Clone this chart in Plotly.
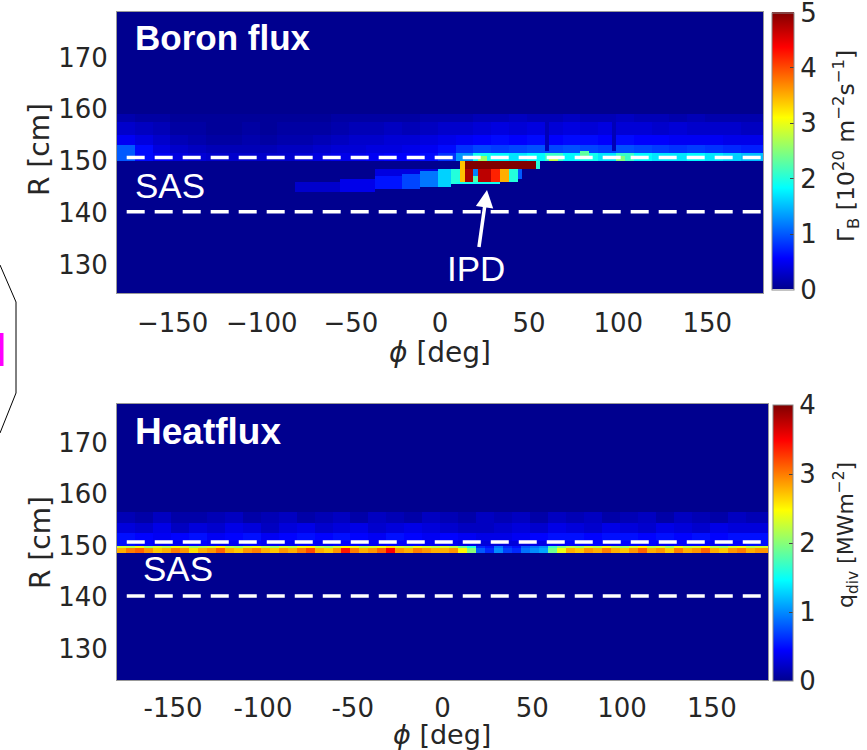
import numpy as np
import plotly.graph_objects as go

# ------------------------------------------------------------------ data
PHI_STEP = 2.5                     # toroidal bin width [deg]
R_STEP = 0.5                       # radial bin width [cm]
PHI_MIN, PHI_MAX = -180.0, 180.0
R_MIN, R_MAX = 123.5, 179.0

SEG10 = list(range(-180, 180, 10))  # 10-deg segment starts (36)
SEG5 = list(range(-180, 180, 5))    # 5-deg segment starts (72)

# --- Boron flux (10^20 m^-2 s^-1): rows above the SAS entrance, by 10-deg segment
top_rows_r = [(157.5, 159.0), (155.0, 157.5), (153.0, 155.0), (151.5, 153.0), (150.0, 151.5)]
top_row_157 = [0.15, 0.1, 0.1, 0.05, 0.05, 0.05, 0.05, 0.05, 0.05, 0.05, 0.05, 0.05, 0.1, 0.1, 0.1, 0.1, 0.1, 0.15,
               0.15, 0.15, 0.2, 0.2, 0.25, 0.2, 0.2, 0.25, 0.2, 0.2, 0.25, 0.2, 0.2, 0.15, 0.2, 0.15, 0.15, 0.15]
top_row_155 = [0.3, 0.25, 0.2, 0.1, 0.1, 0.05, 0.05, 0.1, 0.05, 0.1, 0.1, 0.1, 0.15, 0.2, 0.2, 0.25, 0.2, 0.25,
               0.3, 0.3, 0.35, 0.4, 0.35, 0.4, 0.35, 0.4, 0.35, 0.4, 0.35, 0.35, 0.3, 0.35, 0.3, 0.3, 0.3, 0.25]
top_row_153 = [0.5, 0.4, 0.3, 0.2, 0.15, 0.1, 0.1, 0.15, 0.1, 0.15, 0.15, 0.2, 0.25, 0.3, 0.3, 0.35, 0.35, 0.4,
               0.45, 0.5, 0.55, 0.6, 0.55, 0.6, 0.55, 0.6, 0.6, 0.55, 0.6, 0.55, 0.55, 0.5, 0.5, 0.5, 0.45, 0.45]
top_row_151 = [1.0, 0.6, 0.4, 0.3, 0.25, 0.2, 0.2, 0.2, 0.2, 0.25, 0.25, 0.3, 0.35, 0.35, 0.4, 0.4, 0.45, 0.5,
               0.6, 0.8, 0.9, 0.85, 0.9, 0.95, 0.9, 0.95, 0.9, 0.85, 0.95, 0.9, 0.85, 0.8, 0.85, 0.8, 0.75, 0.7]
top_row_150 = [1.0, 0.6, 0.5, 0.4, 0.35, 0.3, 0.3, 0.3, 0.3, 0.3, 0.35, 0.4, 0.45, 0.45, 0.5, 0.55, 0.55, 0.6,
               0.8, 1.3, 1.9, 1.8, 1.7, 1.8, 2.1, 1.8, 1.9, 1.7, 2.1, 1.8, 1.7, 1.7, 1.8, 1.7, 1.6, 1.5]
# local features (phi0, phi1, R0, R1, value)
top_spots = [
    (22.5, 27.5, 150.0, 151.0, 2.6), (62.5, 67.5, 150.0, 151.0, 2.8),
    (80.0, 85.0, 151.0, 152.0, 2.3), (100.0, 105.0, 150.0, 151.0, 2.5),
    (60.0, 62.5, 152.0, 157.5, 0.2), (97.5, 100.0, 152.0, 157.5, 0.2),
    # deposition tail in front of the IPD
    (-35.0, 0.0, 147.0, 148.5, 0.4),
    (-80.0, -55.0, 144.0, 146.0, 0.3), (-55.0, -35.0, 144.0, 146.5, 0.45),
    (-35.0, -20.0, 144.5, 147.0, 0.65), (-20.0, -10.0, 144.5, 147.5, 0.9),
    (-10.0, 0.0, 145.0, 148.0, 1.15), (0.0, 7.5, 145.0, 148.5, 1.6),
    # IPD blob
    (7.5, 12.5, 145.5, 148.5, 2.0), (12.5, 15.0, 145.5, 150.0, 3.4),
    (15.0, 20.0, 146.0, 148.5, 4.8), (20.0, 22.5, 147.0, 148.5, 1.2),
    (20.0, 22.5, 146.0, 147.0, 2.2), (22.5, 30.0, 146.0, 148.5, 4.7),
    (30.0, 35.0, 146.0, 148.5, 4.2), (35.0, 40.0, 146.0, 148.5, 3.5),
    (40.0, 45.0, 146.0, 148.5, 2.0), (45.0, 47.5, 146.5, 148.5, 1.0),
    (10.0, 35.0, 145.5, 146.0, 1.9),
    # saturated top of the IPD
    (15.0, 55.0, 148.5, 150.0, 5.5), (55.0, 57.5, 148.5, 150.0, 2.0),
]

# --- Heat flux (MW m^-2)
bot_rows_r = [(154.5, 156.5), (152.5, 154.5), (151.0, 152.5), (150.0, 151.0)]
bot_row_154 = [0.15, 0.1, 0.2, 0.1, 0.1, 0.15, 0.2, 0.1, 0.15, 0.2, 0.1, 0.15, 0.2, 0.1, 0.2, 0.15, 0.1, 0.2,
               0.15, 0.1, 0.2, 0.15, 0.2, 0.1, 0.2, 0.15, 0.2, 0.1, 0.15, 0.2, 0.1, 0.2, 0.15, 0.1, 0.2, 0.15]
bot_row_152 = [0.3, 0.25, 0.35, 0.2, 0.3, 0.25, 0.35, 0.3, 0.2, 0.3, 0.35, 0.25, 0.3, 0.35, 0.25, 0.3, 0.35, 0.3,
               0.25, 0.2, 0.2, 0.25, 0.3, 0.25, 0.35, 0.3, 0.25, 0.35, 0.3, 0.25, 0.35, 0.3, 0.25, 0.35, 0.3, 0.3]
bot_row_151 = [0.5, 0.45, 0.4, 0.45, 0.5, 0.4, 0.45, 0.5, 0.4, 0.45, 0.5, 0.45, 0.5, 0.45, 0.4, 0.5, 0.45, 0.4,
               0.45, 0.4, 0.35, 0.35, 0.4, 0.45, 0.5, 0.5, 0.45, 0.5, 0.5, 0.45, 0.5, 0.45, 0.5, 0.45, 0.5, 0.5]
bot_row_150 = [0.5, 0.45, 0.4, 0.4, 0.45, 0.4, 0.4, 0.45, 0.4, 0.4, 0.45, 0.4, 0.45, 0.45, 0.4, 0.45, 0.45, 0.4,
               0.4, 0.35, 0.3, 0.3, 0.3, 0.35, 0.4, 0.45, 0.45, 0.4, 0.45, 0.45, 0.4, 0.45, 0.45, 0.4, 0.45, 0.5]
# strike-line band, by 5-deg segment
band_rows_r = [(149.5, 150.0), (148.5, 149.5)]
band_upper = [2.3, 2.2, 2.4, 2.1, 2.3, 2.2, 2.4, 2.3, 2.1, 2.2, 2.3, 2.5, 2.2, 2.1, 2.3, 2.4, 2.2, 2.1,
              2.3, 2.2, 2.4, 2.5, 2.2, 2.1, 2.3, 2.5, 2.4, 2.2, 2.3, 2.4, 2.6, 2.3, 2.2, 2.4, 2.3, 2.2,
              2.3, 2.2, 1.9, 1.6, 0.6, 0.5, 0.9, 0.6, 0.5, 0.8, 0.9, 1.0, 1.7, 2.0, 2.2, 2.1, 2.3, 2.2,
              2.4, 2.2, 2.1, 2.3, 2.5, 2.2, 2.3, 2.1, 2.4, 2.2, 2.3, 2.5, 2.2, 2.1, 2.3, 2.4, 2.2, 2.3]
band_lower = [2.8, 3.0, 3.1, 2.9, 2.7, 2.8, 3.0, 2.9, 2.6, 2.8, 2.9, 3.1, 2.8, 2.7, 2.9, 3.0, 2.8, 2.7,
              2.9, 2.8, 3.0, 3.2, 2.8, 2.7, 2.9, 3.4, 3.0, 2.8, 2.9, 3.1, 3.5, 2.9, 2.8, 3.0, 2.9, 2.8,
              2.8, 2.9, 2.5, 2.0, 0.8, 0.6, 1.0, 0.7, 0.6, 0.9, 1.0, 1.1, 1.9, 2.4, 2.8, 2.7, 2.9, 2.8,
              3.0, 2.8, 2.7, 2.9, 3.1, 2.8, 2.9, 2.7, 3.0, 2.8, 2.9, 3.1, 2.8, 2.7, 2.9, 3.0, 2.8, 2.9]

SAS_LINES_R = [150.7, 140.2]
X_TICKS = [-150, -100, -50, 0, 50, 100, 150]
Y_TICKS = [130, 140, 150, 160, 170]
TOP_R_RANGE = [124.5, 178.8]
BOT_R_RANGE = [123.9, 177.5]

# ------------------------------------------------------------------ grid build
phi = np.arange(PHI_MIN, PHI_MAX + 0.01, PHI_STEP)
R = np.arange(R_MIN + R_STEP / 2, R_MAX, R_STEP)


def paint(z, p0, p1, r0, r1, v):
    rm = (R >= r0) & (R < r1)
    pm = (phi >= p0) & (phi < p1)
    z[np.ix_(rm, pm)] = v


def build(rows_r, rows_v, seg_starts, seg_w, extra):
    z = np.zeros((len(R), len(phi)))
    for (r0, r1), vals in zip(rows_r, rows_v):
        for s, v in zip(seg_starts, vals):
            p1 = s + seg_w if s + seg_w < 180 else 181
            paint(z, s, p1, r0, r1, v)
    for p0, p1, r0, r1, v in extra:
        paint(z, p0, p1, r0, r1, v)
    return z


z_top = build(top_rows_r, [top_row_157, top_row_155, top_row_153, top_row_151, top_row_150],
              SEG10, 10, top_spots)
z_bot = build(bot_rows_r, [bot_row_154, bot_row_152, bot_row_151, bot_row_150], SEG10, 10, [])
for (r0, r1), vals in zip(band_rows_r, [band_upper, band_lower]):
    for s, v in zip(SEG5, vals):
        paint(z_bot, s, s + 5 if s + 5 < 180 else 181, r0, r1, v)

JET = [[0.0, "rgb(0,0,143)"], [0.111, "rgb(0,0,255)"], [0.365, "rgb(0,255,255)"],
       [0.619, "rgb(255,255,0)"], [0.873, "rgb(255,0,0)"], [1.0, "rgb(128,0,0)"]]

W, H = 867, 750


def px(x):
    return x / W


def py(y):
    return 1 - y / H


TICKFONT = dict(family="DejaVu Sans", size=26, color="#262626")

fig = go.Figure()
fig.add_trace(go.Heatmap(
    x=phi, y=R, z=z_top, zmin=0, zmax=5.0001, colorscale=JET, xaxis="x", yaxis="y",
    colorbar=dict(x=px(772), xanchor="left", y=py(151), yanchor="middle",
                  len=(290 - 13) / H, lenmode="fraction", thickness=22, thicknessmode="pixels",
                  tickvals=[0, 1, 2, 3, 4, 5], ticks="inside", ticklen=4, tickcolor="#444",
                  ticklabeloverflow="allow",
                  tickfont=TICKFONT, outlinecolor="#888", outlinewidth=1, xpad=0, ypad=0)))
fig.add_trace(go.Heatmap(
    x=phi, y=R, z=z_bot, zmin=0, zmax=4.0001, colorscale=JET, xaxis="x2", yaxis="y2",
    colorbar=dict(x=px(773), xanchor="left", y=py(543), yanchor="middle",
                  len=(681 - 405) / H, lenmode="fraction", thickness=20, thicknessmode="pixels",
                  tickvals=[0, 1, 2, 3, 4], ticks="inside", ticklen=4, tickcolor="#444",
                  ticklabeloverflow="allow",
                  tickfont=TICKFONT, outlinecolor="#888", outlinewidth=1, xpad=0, ypad=0)))

axis_common = dict(showgrid=False, zeroline=False, showline=True, linecolor="#999", linewidth=1,
                   mirror=True, ticks="", tickfont=TICKFONT)
xr = [PHI_MIN - PHI_STEP / 2, PHI_MAX + PHI_STEP / 2]
fig.update_layout(
    width=W, height=H, margin=dict(l=0, r=0, t=0, b=0, autoexpand=False),
    paper_bgcolor="white", plot_bgcolor="white", showlegend=False,
    xaxis=dict(domain=[px(117), px(763)], range=xr, anchor="y", tickvals=X_TICKS,
               ticktext=["\u2212150", "\u2212100", "\u221250", "0", "50", "100", "150"],
               ticklabelstandoff=7, **axis_common),
    yaxis=dict(domain=[py(293), py(12)], range=TOP_R_RANGE, anchor="x", tickvals=Y_TICKS,
               ticklabelstandoff=3, **axis_common),
    xaxis2=dict(domain=[px(117), px(768)], range=xr, anchor="y2", tickvals=X_TICKS,
                ticktext=["-150", "-100", "-50", "0", "50", "100", "150"],
                ticklabelstandoff=5, **axis_common),
    yaxis2=dict(domain=[py(680), py(404)], range=BOT_R_RANGE, anchor="x2", tickvals=Y_TICKS,
                ticklabelstandoff=3, **axis_common),
)

# SAS entrance lines
for xa, ya in (("x", "y"), ("x2", "y2")):
    for r in SAS_LINES_R:
        fig.add_shape(type="line", xref=f"{xa} domain", yref=ya, x0=0.015, x1=1, y0=r, y1=r,
                      line=dict(color="white", width=3.5, dash="18px,10px"))

WHITE_BOLD = dict(family="Liberation Sans", size=35, color="white")
WHITE = dict(family="Liberation Sans", size=35, color="white")
LABEL = dict(family="DejaVu Sans", size=28, color="#262626")
ann = [
    dict(text="<b>Boron flux</b>", x=px(133), y=py(37), xanchor="left", font=WHITE_BOLD),
    dict(text="<b>Heatflux</b>", x=px(133), y=py(431), xanchor="left",
         font=dict(family="Liberation Sans", size=37, color="white")),
    dict(text="SAS", x=px(133), y=py(185), xanchor="left", font=WHITE),
    dict(text="SAS", x=px(141), y=py(568), xanchor="left", font=WHITE),
    dict(text="IPD", x=px(487), y=py(190), ax=-11, ay=78, showarrow=True, arrowhead=2,
         arrowsize=1, arrowwidth=3.5, arrowcolor="white", font=WHITE),
    dict(text="R [cm]", x=px(40), y=py(150), textangle=-90, font=LABEL),
    dict(text="R [cm]", x=px(40), y=py(543), textangle=-90, font=LABEL),
    dict(text="<i>\u03d5</i> [deg]", x=px(440), y=py(352), font=LABEL),
    dict(text="<i>\u03d5</i> [deg]", x=px(442), y=py(734.5),
         font=dict(family="DejaVu Sans", size=27, color="#262626")),
    dict(text="\u0393<sub>B</sub> [10<sup>20</sup> m<sup>\u22122</sup>s<sup>\u22121</sup>]",
         x=px(846), y=py(146), textangle=-90,
         font=dict(family="DejaVu Sans", size=23.5, color="#262626")),
    dict(text="q<sub>div</sub> [MWm<sup>\u22122</sup>]",
         x=px(846), y=py(535), textangle=-90,
         font=dict(family="DejaVu Sans", size=22, color="#262626")),
]
for a in ann:
    a.setdefault("showarrow", False)
    a.setdefault("xanchor", "center")
    a.setdefault("yanchor", "middle")
    a.update(xref="paper", yref="paper")
    fig.add_annotation(**a)

# fragment of the neighbouring panel at the left edge
fig.add_shape(type="path", xref="paper", yref="paper",
              path=f"M 0,{py(265)} L {px(16)},{py(302)} L {px(16)},{py(393)} L 0,{py(433)}",
              line=dict(color="black", width=1))
fig.add_shape(type="line", xref="paper", yref="paper", x0=px(1.5), x1=px(1.5), y0=py(333), y1=py(366),
              line=dict(color="magenta", width=4))

fig.write_html("out.html", config={"displayModeBar": False},
               post_script="document.body.style.margin='0px';document.body.style.overflow='hidden';")
